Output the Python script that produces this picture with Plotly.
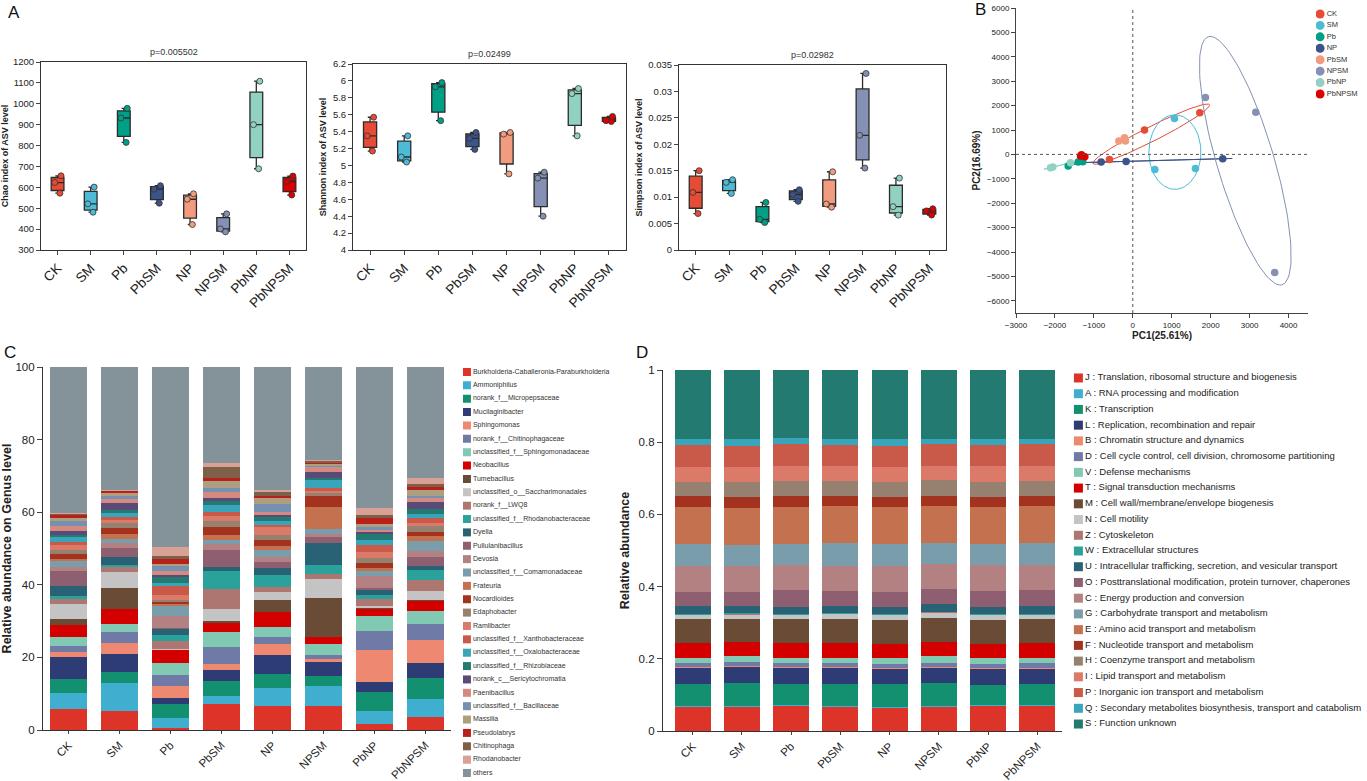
import numpy as np
import plotly.graph_objects as go

W, H = 1367, 781
FONT = "Liberation Sans, Arial, sans-serif"


def dx(a, b):
    return [a / W, b / W]


def dy(top, bottom):
    return [1 - bottom / H, 1 - top / H]


# ---------------- Panel A data ----------------
groups = ["CK", "SM", "Pb", "PbSM", "NP", "NPSM", "PbNP", "PbNPSM"]
group_colors = ["#E64B35", "#4DBBD5", "#00A087", "#3C5488", "#F39B7F", "#8491B4", "#91D1C2", "#DC0000"]

chao = [[572, 623, 655], [481, 521, 601], [815, 932, 978], [524, 591, 608],
        [422, 543, 569], [387, 401, 473], [689, 900, 1108], [563, 628, 654]]
shannon = [[5.17, 5.35, 5.57], [5.04, 5.10, 5.35], [5.53, 5.93, 5.98], [5.19, 5.32, 5.39],
           [4.90, 5.37, 5.39], [4.40, 4.85, 4.92], [5.35, 5.85, 5.91], [5.52, 5.53, 5.58]]
simpson = [[0.0069, 0.0109, 0.0150], [0.0107, 0.0128, 0.0133], [0.0052, 0.0058, 0.0090],
           [0.0092, 0.0105, 0.0114], [0.0081, 0.0087, 0.0148], [0.0155, 0.0217, 0.0334],
           [0.0066, 0.0082, 0.0136], [0.0066, 0.0074, 0.0078]]
p_values = ["p=0.005502", "p=0.02499", "p=0.02982"]
alpha_titles = ["Chao index of ASV level", "Shannon index of ASV level", "Simpson index of ASV level"]

# ---------------- Panel B data ----------------
pca_groups = ["CK", "SM", "Pb", "NP", "PbSM", "NPSM", "PbNP", "PbNPSM"]
pca_colors = ["#E64B35", "#4DBBD5", "#00A087", "#3C5488", "#F39B7F", "#8491B4", "#91D1C2", "#DC0000"]
pca_x = [[300, 1720, -600], [1070, 565, 1609], [-1660, -1403, -1284], [-813, -171, 2310],
         [-359, -214, -188], [1865, 3158, 3645], [-2114, -2054, -1600], [-1343, -1318, -1232]]
pca_y = [[995, 1705, -205], [1473, -614, -573], [-477, -314, -300], [-314, -286, -177],
         [545, 682, 545], [2332, 1732, -4841], [-545, -518, -341], [-68, -14, -95]]

# ---------------- Panel C data ----------------
genus_names = ["Burkholderia-Caballeronia-Paraburkholderia", "Ammoniphilus", "norank_f__Micropepsaceae",
               "Mucilaginibacter", "Sphingomonas", "norank_f__Chitinophagaceae",
               "unclassified_f__Sphingomonadaceae", "Neobacillus", "Tumebacillus",
               "unclassified_o__Saccharimonadales", "norank_f__LWQ8", "unclassified_f__Rhodanobacteraceae",
               "Dyella", "Pullulanibacillus", "Devosia", "unclassified_f__Comamonadaceae", "Frateuria",
               "Nocardioides", "Edaphobacter", "Ramlibacter", "unclassified_f__Xanthobacteraceae",
               "unclassified_f__Oxalobacteraceae", "unclassified_f__Rhizobiaceae",
               "norank_c__Sericytochromatia", "Paenibacillus", "unclassified_f__Bacillaceae", "Massilia",
               "Pseudolabrys", "Chitinophaga", "Rhodanobacter", "others"]
palette = ["#DC3428", "#40AECF", "#13906F", "#2D3C74", "#EE8870", "#6F7BA6", "#82C9B3", "#D40000",
           "#6A4C36", "#C4C4C4", "#AD7670", "#2AA19B", "#2A6275", "#8D5F70", "#B48183", "#799DAB",
           "#C47150", "#A3321E", "#968070", "#DC7A6A", "#C95A4A", "#38A5BB", "#227A70", "#5A4A78",
           "#D58A80", "#7590B0", "#AE9E80", "#B8201A", "#7E604A", "#D7A196", "#84939A"]

genus_CK = [5.8, 4.3, 3.9, 6.0, 1.6, 1.6, 2.4, 3.4, 1.5, 4.2, 1.5, 0.7, 2.9, 3.9, 1.3, 1.7, 0.4, 1.3, 1.2,
            1.4, 0.9, 1.2, 0.7, 0.9, 1.6, 1.2, 0.8, 0.8, 0.6, 0.2, 40.1]
genus_SM = [5.1, 7.8, 3.2, 4.9, 2.9, 3.2, 2.1, 4.1, 5.9, 4.3, 1.3, 0.7, 2.1, 2.5, 1.3, 1.2, 1.4, 1.6, 1.4,
            1.1, 0.5, 1.2, 0.9, 1.7, 1.2, 1.0, 0.7, 0.6, 0.2, 0.1, 33.8]
genus_Pb = [0.6, 2.6, 4.0, 1.5, 3.4, 3.1, 3.2, 3.8, 0.1, 0.1, 2.1, 1.8, 1.6, 0.2, 3.4, 2.8, 0.5, 0.6, 0.3,
            1.6, 2.3, 0.9, 1.8, 0.5, 0.9, 1.5, 0.4, 1.7, 0.5, 2.5, 49.7]
genus_PbSM = [7.2, 2.3, 4.0, 3.0, 1.6, 4.9, 4.0, 2.4, 0.7, 3.3, 5.5, 4.9, 1.0, 4.8, 1.6, 1.2, 1.2, 2.2, 1.8,
              1.4, 1.1, 1.9, 1.2, 0.6, 1.9, 1.0, 1.9, 0.9, 3.0, 1.0, 26.5]
genus_NP = [6.6, 4.9, 3.9, 5.2, 3.1, 2.0, 2.8, 4.1, 3.2, 2.3, 1.2, 3.4, 2.0, 1.5, 1.4, 2.0, 1.2, 1.6, 1.4,
            2.0, 0.7, 1.1, 1.0, 0.6, 0.8, 2.2, 1.8, 0.5, 1.3, 0.3, 33.9]
genus_NPSM = [6.6, 5.5, 2.9, 3.7, 0.8, 1.2, 2.9, 2.1, 10.6, 5.2, 1.4, 2.5, 6.1, 1.6, 1.0, 1.3, 6.0, 3.0, 0.9,
              0.6, 0.9, 2.1, 0.6, 1.5, 1.4, 0.6, 0.3, 0.5, 0.4, 0.1, 25.7]
genus_PbNP = [1.6, 3.7, 5.3, 2.7, 8.8, 5.2, 4.0, 2.1, 0.3, 0.4, 2.0, 1.2, 1.4, 0.4, 3.2, 1.5, 0.9, 1.2, 1.5,
              1.6, 1.9, 1.4, 1.8, 0.6, 0.5, 0.6, 0.9, 1.8, 0.7, 2.0, 38.8]
genus_PbNPSM = [3.7, 4.9, 5.7, 4.1, 6.4, 4.4, 3.7, 2.9, 0.1, 2.3, 3.2, 2.6, 1.3, 2.3, 1.7, 2.8, 1.4, 1.1, 1.6,
                0.9, 1.4, 0.9, 1.4, 2.1, 1.1, 0.5, 1.7, 0.8, 0.9, 1.4, 30.7]

# ---------------- Panel D data ----------------
cog_names = ["J : Translation, ribosomal structure and biogenesis", "A : RNA processing and modification",
             "K : Transcription", "L : Replication, recombination and repair",
             "B : Chromatin structure and dynamics",
             "D : Cell cycle control, cell division, chromosome partitioning", "V : Defense mechanisms",
             "T : Signal transduction mechanisms", "M : Cell wall/membrane/envelope biogenesis",
             "N : Cell motility", "Z : Cytoskeleton", "W : Extracellular structures",
             "U : Intracellular trafficking, secretion, and vesicular transport",
             "O : Posttranslational modification, protein turnover, chaperones",
             "C : Energy production and conversion", "G : Carbohydrate transport and metabolism",
             "E : Amino acid transport and metabolism", "F : Nucleotide transport and metabolism",
             "H : Coenzyme transport and metabolism", "I : Lipid transport and metabolism",
             "P : Inorganic ion transport and metabolism",
             "Q : Secondary metabolites biosynthesis, transport and catabolism", "S : Function unknown"]
cog_CK = [0.067, 0.001, 0.063, 0.045, 0.001, 0.012, 0.014, 0.040, 0.066, 0.014, 0.001, 0.001, 0.020, 0.040,
          0.071, 0.061, 0.103, 0.030, 0.040, 0.042, 0.059, 0.018, 0.191]
cog_SM = [0.067, 0.001, 0.065, 0.046, 0.001, 0.011, 0.017, 0.039, 0.063, 0.014, 0.001, 0.001, 0.020, 0.040,
          0.071, 0.058, 0.104, 0.029, 0.042, 0.040, 0.060, 0.018, 0.192]
cog_Pb = [0.070, 0.001, 0.059, 0.046, 0.001, 0.010, 0.016, 0.040, 0.066, 0.013, 0.001, 0.001, 0.020, 0.047,
          0.069, 0.058, 0.103, 0.029, 0.042, 0.041, 0.061, 0.018, 0.188]
cog_PbSM = [0.067, 0.001, 0.063, 0.045, 0.001, 0.010, 0.016, 0.042, 0.066, 0.014, 0.001, 0.001, 0.019, 0.042,
            0.069, 0.064, 0.102, 0.028, 0.042, 0.041, 0.058, 0.018, 0.190]
cog_NP = [0.065, 0.001, 0.063, 0.045, 0.001, 0.010, 0.016, 0.040, 0.066, 0.015, 0.001, 0.001, 0.019, 0.042,
          0.071, 0.061, 0.103, 0.027, 0.043, 0.040, 0.060, 0.018, 0.192]
cog_NPSM = [0.067, 0.001, 0.064, 0.045, 0.001, 0.011, 0.018, 0.040, 0.065, 0.017, 0.001, 0.001, 0.020, 0.043,
            0.068, 0.060, 0.102, 0.028, 0.042, 0.040, 0.060, 0.016, 0.190]
cog_PbNP = [0.070, 0.001, 0.057, 0.046, 0.001, 0.011, 0.017, 0.039, 0.066, 0.014, 0.001, 0.001, 0.019, 0.045,
            0.071, 0.060, 0.102, 0.027, 0.043, 0.042, 0.059, 0.018, 0.190]
cog_PbNPSM = [0.070, 0.001, 0.060, 0.043, 0.001, 0.012, 0.016, 0.040, 0.066, 0.014, 0.001, 0.001, 0.021, 0.045,
              0.070, 0.060, 0.101, 0.028, 0.043, 0.041, 0.060, 0.016, 0.190]

genus_samples = [genus_CK, genus_SM, genus_Pb, genus_PbSM, genus_NP, genus_NPSM, genus_PbNP, genus_PbNPSM]
cog_samples = [cog_CK, cog_SM, cog_Pb, cog_PbSM, cog_NP, cog_NPSM, cog_PbNP, cog_PbNPSM]

fig = go.Figure()
layout = dict(width=W, height=H, margin=dict(l=0, r=0, t=0, b=0, autoexpand=False), paper_bgcolor="white",
              plot_bgcolor="white", showlegend=False, font=dict(family=FONT, color="#222"),
              barmode="stack", bargap=0.27, boxmode="overlay", boxgap=0.45, annotations=[], shapes=[])

# ---------------- Panel A ----------------
alpha_sets = [chao, shannon, simpson]
alpha_dom_x = [dx(41, 306), dx(353, 626), dx(679, 946)]
alpha_dom_y = [dy(62, 250), dy(64, 250), dy(65, 250)]
alpha_ranges = [[300, 1200], [4, 6.2], [0, 0.035]]
alpha_dticks = [100, 0.2, 0.005]
for k in range(3):
    n = k + 1
    xa, ya = ("x", "y") if n == 1 else (f"x{n}", f"y{n}")
    xkey, ykey = ("xaxis", "yaxis") if n == 1 else (f"xaxis{n}", f"yaxis{n}")
    for i, g in enumerate(groups):
        fig.add_trace(go.Box(
            x=[g] * len(alpha_sets[k][i]), y=alpha_sets[k][i], name=g, xaxis=xa, yaxis=ya,
            boxpoints="all", jitter=0.7, pointpos=0, quartilemethod="linear", whiskerwidth=0.35,
            fillcolor=group_colors[i], line=dict(color="#2b2b2b", width=1.3),
            marker=dict(color=group_colors[i], size=6, line=dict(color="#333", width=0.8))))
    layout[xkey] = dict(domain=alpha_dom_x[k], anchor=ya, type="category", categoryorder="array",
                        categoryarray=groups, range=[-0.5, 7.5], showline=True, linecolor="#333",
                        linewidth=1, mirror=True, ticks="outside", ticklen=4, tickangle=-45,
                        tickfont=dict(size=13.5, color="#222"), showgrid=False, zeroline=False,
                        automargin=False)
    layout[ykey] = dict(domain=alpha_dom_y[k], anchor=xa, range=alpha_ranges[k], dtick=alpha_dticks[k],
                        tick0=alpha_ranges[k][0], showline=True, linecolor="#333", linewidth=1, mirror=True,
                        ticks="outside", ticklen=4, tickfont=dict(size=9.5, color="#222"), showgrid=False,
                        zeroline=False, automargin=False,
                        title=dict(text=f"<b>{alpha_titles[k]}</b>", font=dict(size=9), standoff=4))
    layout["annotations"].append(dict(text=p_values[k], xref=f"{xa} domain", yref=f"{ya} domain", x=0.5,
                                      y=1, yanchor="bottom", yshift=3, showarrow=False,
                                      font=dict(size=9, color="#333")))

# ---------------- Panel B ----------------
def ellipse(xs, ys, k=1.28, n=120):
    pts = np.vstack([xs, ys]).astype(float)
    m = pts.mean(axis=1)
    cov = np.cov(pts)
    vals, vecs = np.linalg.eigh(cov)
    vals = np.clip(vals, 0, None)
    t = np.linspace(0, 2 * np.pi, n)
    circ = np.vstack([np.cos(t), np.sin(t)])
    e = vecs @ (np.sqrt(vals)[:, None] * circ) * k
    return m[0] + e[0], m[1] + e[1]


for i, g in enumerate(pca_groups):
    ex, ey = ellipse(pca_x[i], pca_y[i])
    fig.add_trace(go.Scatter(x=ex, y=ey, mode="lines", line=dict(color=pca_colors[i], width=1),
                             xaxis="x4", yaxis="y4", hoverinfo="skip"))
for i, g in enumerate(pca_groups):
    fig.add_trace(go.Scatter(x=pca_x[i], y=pca_y[i], mode="markers", name=g,
                             marker=dict(color=pca_colors[i], size=7.5), xaxis="x4", yaxis="y4"))
layout["xaxis4"] = dict(domain=dx(1016, 1308), anchor="y4", range=[-3000, 4500], dtick=1000, tick0=-3000,
                        showline=True, linecolor="#444", ticks="outside", ticklen=4,
                        tickfont=dict(size=8, color="#222"), showgrid=False, zeroline=False, automargin=False,
                        title=dict(text="<b>PC1(25.61%)</b>", font=dict(size=10), standoff=2))
layout["yaxis4"] = dict(domain=dy(8, 313), anchor="x4", range=[-6500, 6000], dtick=1000, tick0=-6000,
                        showline=True, linecolor="#444", ticks="outside", ticklen=4,
                        tickfont=dict(size=8, color="#222"), showgrid=False, zeroline=False, automargin=False,
                        title=dict(text="<b>PC2(16.69%)</b>", font=dict(size=10), standoff=4))
layout["shapes"].append(dict(type="line", xref="x4", yref="y4 domain", x0=0, x1=0, y0=0, y1=1,
                             line=dict(color="#555", width=1, dash="dot")))
layout["shapes"].append(dict(type="line", xref="x4 domain", yref="y4", x0=0, x1=1, y0=0, y1=0,
                             line=dict(color="#555", width=1, dash="dot")))
# PCA legend
fig.add_trace(go.Scatter(x=[0.08] * len(pca_groups), y=list(range(len(pca_groups))), text=pca_groups,
                         mode="markers+text", textposition="middle right",
                         textfont=dict(size=7.5, color="#333"),
                         marker=dict(color=pca_colors, size=9), xaxis="x5", yaxis="y5", hoverinfo="skip"))
layout["xaxis5"] = dict(domain=dx(1316, 1367), anchor="y5", range=[0, 1], visible=False)
layout["yaxis5"] = dict(domain=dy(8.3, 99.7), anchor="x5", range=[len(pca_groups) - 0.5, -0.5], visible=False)

# ---------------- Panel C ----------------
for j, name in enumerate(genus_names):
    fig.add_trace(go.Bar(x=groups, y=[s[j] for s in genus_samples], name=name, marker_color=palette[j],
                         marker_line_width=0, xaxis="x6", yaxis="y6"))
layout["xaxis6"] = dict(domain=dx(43, 451), anchor="y6", type="category", range=[-0.5, 7.5],
                        showline=True, linecolor="#333", linewidth=1.2, ticks="outside", ticklen=3,
                        tickangle=-45, tickfont=dict(size=11.5, color="#222"), showgrid=False, automargin=False)
layout["yaxis6"] = dict(domain=dy(367, 730), anchor="x6", range=[0, 100], dtick=20, showline=True,
                        linecolor="#333", linewidth=1.2, ticks="outside", ticklen=5,
                        tickfont=dict(size=11.5, color="#222"), showgrid=False, zeroline=False, automargin=False,
                        title=dict(text="<b>Relative abundance on Genus level</b>", font=dict(size=12.5),
                                   standoff=6))
# Genus legend
nG = len(genus_names)
fig.add_trace(go.Scatter(x=[0.02] * nG, y=list(range(nG)), text=genus_names, mode="markers+text",
                         textposition="middle right", textfont=dict(size=7, color="#333"),
                         marker=dict(color=palette[:nG], size=8, symbol="square"),
                         xaxis="x7", yaxis="y7", hoverinfo="skip"))
layout["xaxis7"] = dict(domain=dx(463, 660), anchor="y7", range=[0, 1], visible=False)
layout["yaxis7"] = dict(domain=dy(365.3, 779.7), anchor="x7", range=[nG - 0.5, -0.5], visible=False)

# ---------------- Panel D ----------------
for j, name in enumerate(cog_names):
    fig.add_trace(go.Bar(x=groups, y=[s[j] for s in cog_samples], name=name, marker_color=palette[j],
                         marker_line_width=0, xaxis="x8", yaxis="y8"))
layout["xaxis8"] = dict(domain=dx(663, 1062), anchor="y8", type="category", range=[-0.6, 7.5],
                        showline=True, linecolor="#333", linewidth=1.2, ticks="outside", ticklen=3,
                        tickangle=-45, tickfont=dict(size=11.5, color="#222"), showgrid=False, automargin=False)
layout["yaxis8"] = dict(domain=dy(370, 731), anchor="x8", range=[0, 1], dtick=0.2, showline=True,
                        linecolor="#333", linewidth=1.2, ticks="outside", ticklen=5,
                        tickfont=dict(size=11.5, color="#222"), showgrid=False, zeroline=False, automargin=False,
                        title=dict(text="<b>Relative abundance</b>", font=dict(size=12.5), standoff=6))
nC = len(cog_names)
fig.add_trace(go.Scatter(x=[0.025] * nC, y=list(range(nC)), text=cog_names, mode="markers+text",
                         textposition="middle right", textfont=dict(size=9.5, color="#222"),
                         marker=dict(color=palette[:nC], size=9, symbol="square"),
                         xaxis="x9", yaxis="y9", hoverinfo="skip"))
layout["xaxis9"] = dict(domain=dx(1071, 1367), anchor="y9", range=[0, 1], visible=False)
layout["yaxis9"] = dict(domain=dy(370.1, 731.9), anchor="x9", range=[nC - 0.5, -0.5], visible=False)

# ---------------- Panel letters ----------------
for letter, px, py in [("A", 6, 12), ("B", 973, 10), ("C", 2, 352), ("D", 634, 352)]:
    layout["annotations"].append(dict(text=letter, xref="paper", yref="paper", x=px / W, y=1 - py / H,
                                      xanchor="left", yanchor="middle", showarrow=False,
                                      font=dict(size=17, color="#111")))

fig.update_layout(**layout)
fig.write_html("out.html", config={"displayModeBar": False},
               post_script="document.body.style.margin='0px';document.body.style.padding='0px';"
                           "document.body.style.overflow='hidden';")
